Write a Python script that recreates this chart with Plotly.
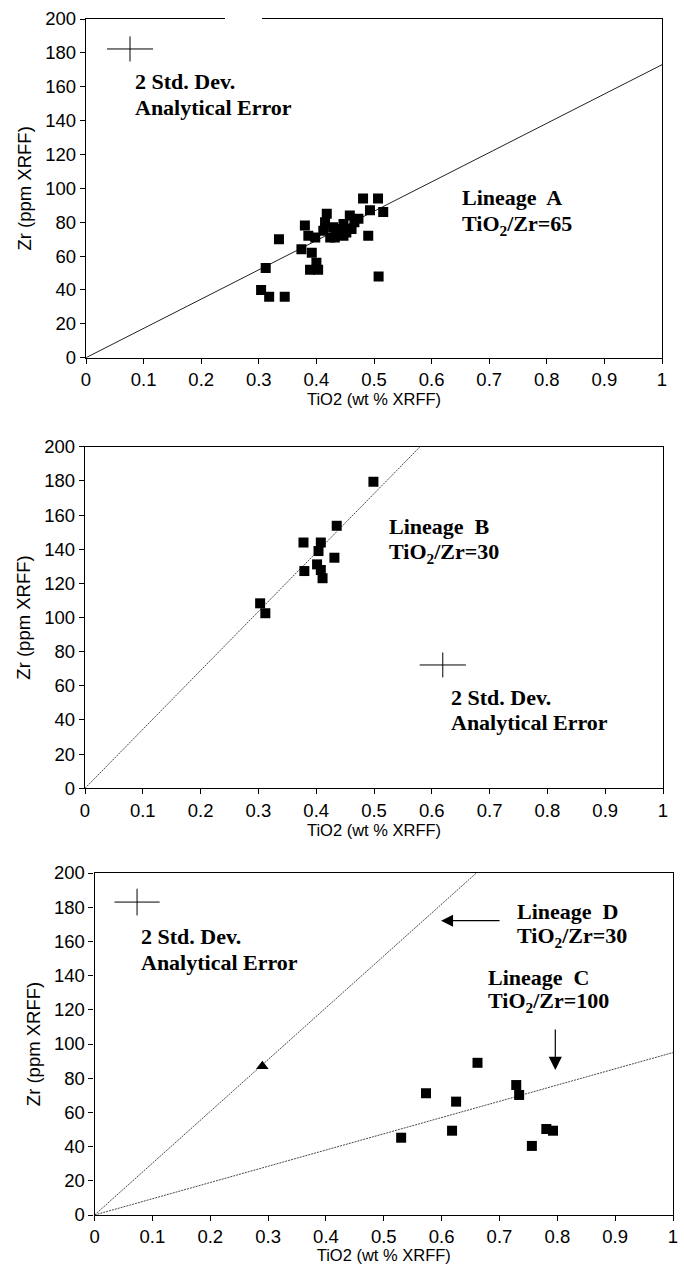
import plotly.graph_objects as go

# ---------------- data ----------------
# Panel 1: Lineage A
a_tio2 = [0.304, 0.312, 0.318, 0.335, 0.345, 0.374, 0.380, 0.386, 0.392, 0.398,
          0.400, 0.389, 0.403, 0.412, 0.415, 0.418, 0.424, 0.429, 0.438, 0.447,
          0.447, 0.458, 0.461, 0.473, 0.481, 0.507, 0.493, 0.516, 0.490, 0.508,
          0.435, 0.452, 0.466, 0.432, 0.441]
a_zr = [40, 53, 36, 70, 36, 64, 78, 72, 62, 71,
        56, 52, 52, 75, 80, 85, 71, 77, 73, 72,
        79, 84, 76, 82, 94, 94, 87, 86, 72, 48,
        76, 74, 80, 71, 75]

# Panel 2: Lineage B
b_tio2 = [0.499, 0.4355, 0.378, 0.408, 0.404, 0.4315, 0.4015, 0.3795, 0.408, 0.411, 0.303, 0.312]
b_zr = [179.5, 153.7, 143.9, 143.9, 138.9, 135, 131.1, 127.2, 127.8, 123, 108.3, 102.5]

# Panel 3: Lineage C (squares) and Lineage D (triangle)
c_tio2 = [0.530, 0.573, 0.625, 0.618, 0.662, 0.729, 0.734, 0.756, 0.781, 0.7925]
c_zr = [45.2, 71.2, 66.3, 49.3, 89, 76, 70.2, 40.4, 50.3, 49.3]
d_tio2 = [0.290]
d_zr = [87]

# lineage reference lines (Zr per unit TiO2)
slope_a = 173
slope_b = 345
slope_c = 95
slope_d = 303
line_x = [0, 1]

x_ticks = [0, 0.1, 0.2, 0.3, 0.4, 0.5, 0.6, 0.7, 0.8, 0.9, 1]
y_ticks = [0, 20, 40, 60, 80, 100, 120, 140, 160, 180, 200]

# 2 std. dev. error crosses: centre x, centre y, half-width x, half-height y
err_1 = (0.0764, 182.3, 0.040, 7.4)
err_2 = (0.619, 72.2, 0.040, 7.3)
err_3 = (0.0734, 183.0, 0.039, 7.8)

# ---------------- figure ----------------
W, H = 684, 1264
fig = go.Figure()

sq = dict(symbol="square", size=10, color="black")
fig.add_trace(go.Scatter(x=line_x, y=[0, slope_a], mode="lines",
                         line=dict(color="#222", width=1), xaxis="x", yaxis="y", showlegend=False))
fig.add_trace(go.Scatter(x=a_tio2, y=a_zr, mode="markers", marker=sq,
                         xaxis="x", yaxis="y", showlegend=False))

fig.add_trace(go.Scatter(x=line_x, y=[0, slope_b], mode="lines",
                         line=dict(color="#333", width=0.9, dash="2px,1px"), xaxis="x2", yaxis="y2", showlegend=False))
fig.add_trace(go.Scatter(x=b_tio2, y=b_zr, mode="markers", marker=sq,
                         xaxis="x2", yaxis="y2", showlegend=False))

fig.add_trace(go.Scatter(x=line_x, y=[0, slope_d], mode="lines",
                         line=dict(color="#333", width=0.9, dash="2px,1px"), xaxis="x3", yaxis="y3", showlegend=False))
fig.add_trace(go.Scatter(x=line_x, y=[0, slope_c], mode="lines",
                         line=dict(color="#333", width=0.9, dash="2px,1px"), xaxis="x3", yaxis="y3", showlegend=False))
fig.add_trace(go.Scatter(x=c_tio2, y=c_zr, mode="markers", marker=sq,
                         xaxis="x3", yaxis="y3", showlegend=False))
fig.add_trace(go.Scatter(x=d_tio2, y=d_zr, mode="markers",
                         marker=dict(symbol="triangle-up", size=11, color="black"),
                         xaxis="x3", yaxis="y3", showlegend=False))

# axis geometry (pixels)
panels = [
    # x0, x1, ytop, ybottom
    (86, 662, 19, 357.7),
    (85, 663, 446.7, 788.3),
    (94.6, 673, 873, 1215),
]

sans = "Liberation Sans, Arial, sans-serif"
tickfont = dict(family=sans, size=18.5, color="black")
layout = dict(width=W, height=H, autosize=False, margin=dict(l=0, r=0, t=0, b=0),
              paper_bgcolor="white", plot_bgcolor="white", showlegend=False)

for i, (x0, x1, yt, yb) in enumerate(panels):
    sfx = "" if i == 0 else str(i + 1)
    layout["xaxis" + sfx] = dict(
        domain=[x0 / W, x1 / W], anchor="y" + sfx, range=[0, 1],
        tickvals=x_ticks, ticktext=[("%g" % v) for v in x_ticks],
        ticks="outside", ticklen=5, tickwidth=1, tickcolor="black",
        showline=True, linecolor="black", linewidth=1.3, mirror=True,
        showgrid=False, zeroline=False, tickfont=tickfont,
        title=dict(text="TiO2 (wt % XRFF)", standoff=2,
                   font=dict(family=sans, size=16.5, color="black")),
        automargin=False,
    )
    layout["yaxis" + sfx] = dict(
        domain=[1 - yb / H, 1 - yt / H], anchor="x" + sfx, range=[0, 200],
        tickvals=y_ticks, ticks="outside", ticklen=5, tickwidth=1, tickcolor="black",
        showline=True, linecolor="black", linewidth=1.3, mirror=True,
        showgrid=False, zeroline=False, tickfont=tickfont,
        title=dict(text="Zr (ppm XRFF)", standoff=8,
                   font=dict(family=sans, size=18.5, color="black")),
        automargin=False,
    )

shapes = []
for (cx, cy, hx, hy), sfx in [(err_1, ""), (err_2, "2"), (err_3, "3")]:
    xr, yr = "x" + sfx, "y" + sfx
    shapes.append(dict(type="line", xref=xr, yref=yr, x0=cx - hx, x1=cx + hx, y0=cy, y1=cy,
                       line=dict(color="black", width=1)))
    shapes.append(dict(type="line", xref=xr, yref=yr, x0=cx, x1=cx, y0=cy - hy, y1=cy + hy,
                       line=dict(color="black", width=1)))
# scan gap in the top border of the first panel
shapes.append(dict(type="line", xref="paper", yref="paper", x0=225 / W, x1=262 / W,
                   y0=1 - 19 / H, y1=1 - 19 / H, line=dict(color="white", width=4), layer="above"))
layout["shapes"] = shapes

serif = dict(family="Liberation Serif, Times New Roman, serif", size=22, color="black")
ann = []

def txt(s, x, y, sfx):
    ann.append(dict(text="<b>" + s + "</b>", x=x, y=y, xref="x" + sfx, yref="y" + sfx,
                    xanchor="left", yanchor="middle", showarrow=False, font=serif))

txt("2 Std. Dev.", 0.0816, 162.8, "")
txt("Analytical Error", 0.0816, 147.5, "")
txt("Lineage&nbsp; A", 0.649, 94.3, "")
txt("TiO<sub>2</sub>/Zr=65", 0.649, 78.4, "")

txt("Lineage&nbsp; B", 0.523, 153, "2")
txt("TiO<sub>2</sub>/Zr=30", 0.523, 137.8, "2")
txt("2 Std. Dev.", 0.629, 53.3, "2")
txt("Analytical Error", 0.629, 38.6, "2")

txt("2 Std. Dev.", 0.0768, 162.6, "3")
txt("Analytical Error", 0.0768, 147.4, "3")
txt("Lineage&nbsp; D", 0.727, 177.4, "3")
txt("TiO<sub>2</sub>/Zr=30", 0.727, 162.7, "3")
txt("Lineage&nbsp; C", 0.677, 138.6, "3")
txt("TiO<sub>2</sub>/Zr=100", 0.677, 124.7, "3")

# arrows in panel 3
ann.append(dict(text="", x=0.599, y=172.1, xref="x3", yref="y3", ax=60, ay=0,
                showarrow=True, arrowhead=2, arrowsize=2, arrowwidth=1.2, arrowcolor="black"))
ann.append(dict(text="", x=0.7965, y=84.8, xref="x3", yref="y3", ax=0, ay=-42,
                showarrow=True, arrowhead=2, arrowsize=2.2, arrowwidth=1.2, arrowcolor="black"))
layout["annotations"] = ann

fig.update_layout(**layout)
fig.write_html("out.html")
